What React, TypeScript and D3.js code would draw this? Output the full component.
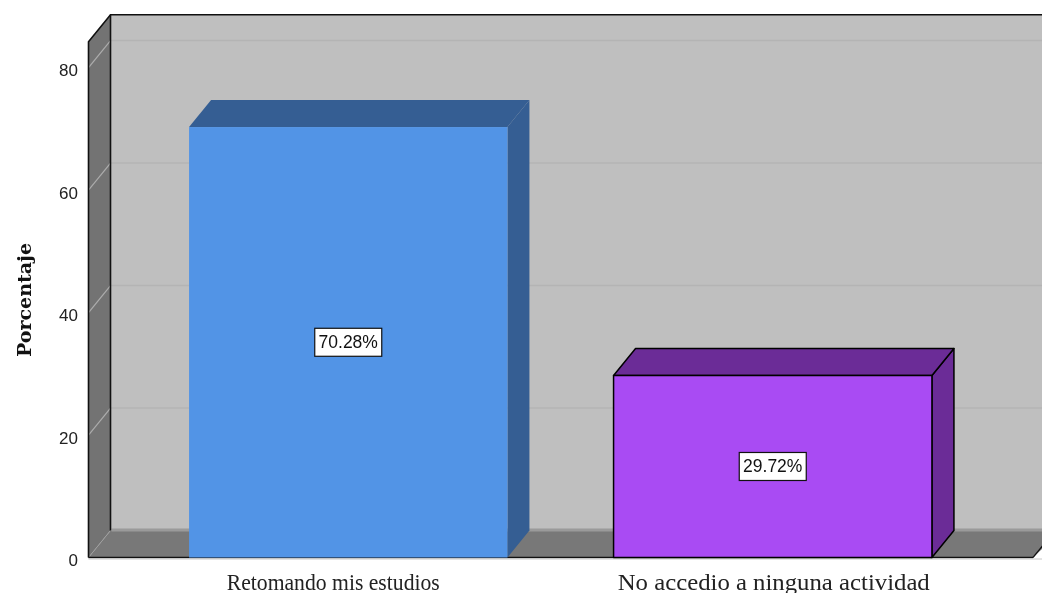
import React from "react";
import * as d3 from "d3";

const categories = ["Retomando mis estudios", "No accedio a ninguna actividad"];
const values = [70.28, 29.72];
const labels = ["70.28%", "29.72%"];
const frontColors = ["#5294e6", "#a94bf3"];
const sideColors = ["#355e93", "#6b2c97"];
const strokeColors = ["none", "#000000"];
const ticks = [0, 20, 40, 60, 80];

const W = 1042, H = 593;
const DX = 22, DY = -27;
const y = d3.scaleLinear().domain([0, 84.2]).range([557.5, 41.8]);
const x = d3.scaleBand<string>().domain(categories).range([136, 985]).paddingInner(0.25).paddingOuter(0.125);
const LEFT = 88.5, RIGHT = 1033;
const labelShift = [-15, 1];
const labelLength = [213, 312];
const pts = (a: number[][]) => a.map((p) => p.join(",")).join(" ");

export default function App() {
  const y0 = y(0), yTop = y(84.2);
  return (
    <svg width={W} height={H} style={{ position: "absolute", left: 0, top: 0, background: "#fff", filter: "blur(0.4px)" }}>
      {/* back wall */}
      <rect x={LEFT + DX} y={yTop + DY} width={W - LEFT - DX} height={y0 - yTop} fill="#bfbfbf" />
      {/* left wall */}
      <polygon points={pts([[LEFT, y0], [LEFT, yTop], [LEFT + DX, yTop + DY], [LEFT + DX, y0 + DY]])} fill="#737373" />
      {/* floor */}
      <polygon points={pts([[LEFT, y0], [LEFT + DX, y0 + DY], [W + 20, y0 + DY], [RIGHT, y0]])} fill="#787878" />
      <line x1={LEFT + DX + 1} x2={W} y1={y0 + DY - 0.5} y2={y0 + DY - 0.5} stroke="#9a9a9a" strokeWidth={3} />
      {/* gridlines */}
      {ticks.slice(1).map((t) => (
        <g key={t}>
          <line x1={LEFT + DX} x2={W} y1={y(t) + DY} y2={y(t) + DY} stroke="#b4b4b4" strokeWidth={1.5} />
          <line x1={LEFT} x2={LEFT + DX} y1={y(t)} y2={y(t) + DY} stroke="#adadad" strokeWidth={1.2} />
        </g>
      ))}
      <line x1={LEFT} x2={LEFT + DX} y1={y0} y2={y0 + DY} stroke="#a0a0a0" strokeWidth={1} />
      {/* frame */}
      <path d={`M${LEFT},${y0} L${LEFT},${yTop} L${LEFT + DX},${yTop + DY} L${W},${yTop + DY}`} fill="none" stroke="#111" strokeWidth={1.6} />
      <line x1={LEFT + DX} x2={LEFT + DX} y1={yTop + DY} y2={y0 + DY} stroke="#111" strokeWidth={1.6} />
      <line x1={LEFT} x2={RIGHT} y1={y0} y2={y0} stroke="#111" strokeWidth={1.6} />
      <line x1={RIGHT} x2={W + 20} y1={y0} y2={y0 + (W + 20 - RIGHT) * (DY / DX)} stroke="#111" strokeWidth={1.2} />
      <line x1={LEFT} x2={W} y1={y0 + 1.5} y2={y0 + 1.5} stroke="#c8c8c8" strokeWidth={1} />
      {/* bars */}
      {categories.map((c, i) => {
        const bx = x(c)!, bw = x.bandwidth(), top = y(values[i]);
        const s = strokeColors[i];
        return (
          <g key={c} stroke={s} strokeWidth={1.5} strokeLinejoin="round">
            <polygon points={pts([[bx + bw, y0], [bx + bw, top], [bx + bw + DX, top + DY], [bx + bw + DX, y0 + DY]])} fill={sideColors[i]} />
            <polygon points={pts([[bx, top], [bx + DX, top + DY], [bx + bw + DX, top + DY], [bx + bw, top]])} fill={sideColors[i]} />
            <rect x={bx} y={top} width={bw} height={y0 - top} fill={frontColors[i]} />
          </g>
        );
      })}
      {/* value labels */}
      {categories.map((c, i) => {
        const cx = x(c)! + x.bandwidth() / 2, cy = y(values[i] / 2);
        return (
          <g key={c}>
            <rect x={cx - 33.5} y={cy - 14} width={67} height={28} fill="#fff" stroke="#111" strokeWidth={1.2} />
            <text x={cx} y={cy + 6} textAnchor="middle" fontFamily="Liberation Sans, Arial, sans-serif" fontSize={17.5} fill="#111">{labels[i]}</text>
          </g>
        );
      })}
      {/* y ticks */}
      {ticks.map((t) => (
        <text key={t} x={78} y={y(t) + 8.5} textAnchor="end" fontFamily="Liberation Sans, Arial, sans-serif" fontSize={17} fill="#222">{t}</text>
      ))}
      {/* axis title */}
      <text transform={`translate(31,300) rotate(-90)`} textAnchor="middle" fontFamily="DejaVu Serif, serif" fontWeight="bold" fontSize={19} fill="#111">Porcentaje</text>
      {/* x labels */}
      {categories.map((c, i) => (
        <text key={c} x={x(c)! + x.bandwidth() / 2 + labelShift[i]} y={589.5} textAnchor="middle" fontFamily="Liberation Serif, serif" fontSize={23} fill="#222" textLength={labelLength[i]} lengthAdjust="spacingAndGlyphs">{c}</text>
      ))}
    </svg>
  );
}
